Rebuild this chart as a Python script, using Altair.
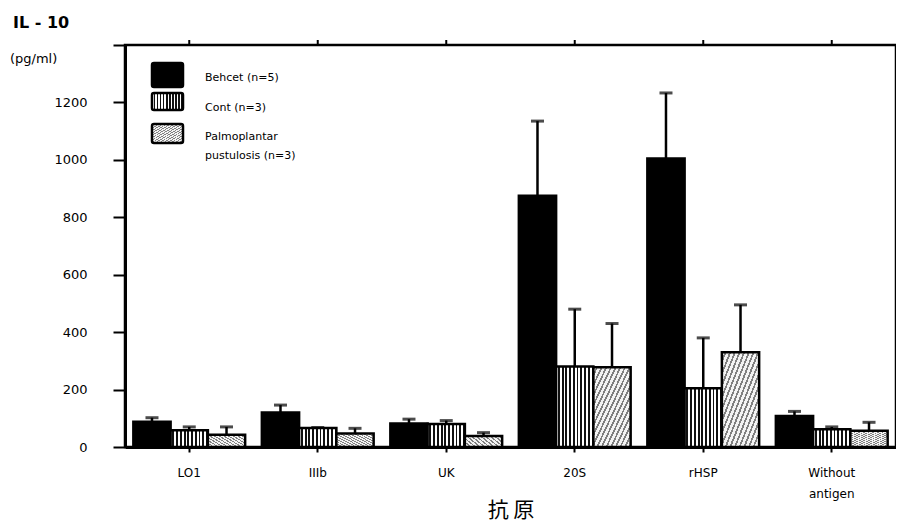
import altair as alt
import pandas as pd

antigens = ["LO1", "IIIb", "UK", "20S", "rHSP", "Without antigen"]
series = ["Behcet (n=5)", "Cont (n=3)", "Palmoplantar pustulosis (n=3)"]
behcet = [88, 120, 82, 875, 1005, 108]
behcet_err = [102, 146, 97, 1135, 1233, 124]
cont = [58, 66, 80, 280, 205, 62]
cont_err = [70, 68, 92, 480, 380, 70]
palmo = [43, 47, 38, 278, 330, 57]
palmo_err = [70, 65, 50, 430, 495, 86]

rows = []
for vals, errs, s in [(behcet, behcet_err, series[0]), (cont, cont_err, series[1]), (palmo, palmo_err, series[2])]:
    for a, v, e in zip(antigens, vals, errs):
        rows.append({"antigen": a, "series": s, "value": v, "err": e})
df = pd.DataFrame(rows)


def stripes(n, dark_frac, light, dark, diag=False):
    stops = []
    for i in range(n):
        a = i / n
        b = (i + 1 - dark_frac) / n
        c = (i + 1) / n
        stops += [alt.GradientStop(color=light, offset=a), alt.GradientStop(color=light, offset=b),
                  alt.GradientStop(color=dark, offset=b), alt.GradientStop(color=dark, offset=c)]
    if diag:
        return alt.Gradient(gradient="linear", stops=stops, x1=0, y1=0, x2=1, y2=1)
    return alt.Gradient(gradient="linear", stops=stops, x1=0, y1=0, x2=1, y2=0)


fills = {
    series[0]: "black",
    series[1]: stripes(10, 0.5, "white", "#111111"),
    series[2]: stripes(16, 0.4, "#f4f4f4", "#808080", diag=True),
}

font = "DejaVu Sans"
xscale = alt.Scale(domain=antigens, paddingInner=0.13, paddingOuter=0.065)
yscale = alt.Scale(domain=[0, 1400])
xoff_scale = alt.Scale(domain=series, paddingInner=0, paddingOuter=0)

base = alt.Chart(df)

x_enc = alt.X("antigen:N", scale=xscale, sort=antigens,
              axis=alt.Axis(title="抗 原", titleFont="Noto Sans CJK JP", titleFontSize=21,
                            titleFontWeight="normal", titlePadding=0, labelAngle=0,
                            labelFont=font, labelFontSize=12, labelPadding=15,
                            labelExpr="datum.label == 'Without antigen' ? ['Without', 'antigen'] : datum.label",
                            labelLineHeight=21, tickSize=5, tickWidth=2, tickColor="black",
                            domainWidth=3, domainColor="black", labelColor="black", titleColor="black"))
y_enc = alt.Y("value:Q", scale=yscale,
              axis=alt.Axis(title=None, values=list(range(0, 1401, 100)),
                            labelExpr="datum.value % 200 == 0 && datum.value < 1400 ? datum.label : ''",
                            format="d", labelFont=font, labelFontSize=13, labelPadding=26,
                            tickSize={"condition": {"test": "datum.value % 200 == 0", "value": 12}, "value": 5},
                            tickWidth=2, tickColor="black", domainWidth=3, domainColor="black",
                            labelColor="black", grid=False))

layers = []
for i, s in enumerate(series):
    sub = base.transform_filter(alt.datum.series == s)
    bar = sub.mark_bar(fill=fills[s], stroke="black", strokeWidth=2.5).encode(
        x=x_enc, y=y_enc,
        xOffset=alt.XOffset("series:N", scale=xoff_scale, sort=series),
    )
    layers.append(bar)

rule = base.mark_rule(color="black", strokeWidth=2.5).encode(
    x=alt.X("antigen:N", scale=xscale, sort=antigens),
    xOffset=alt.XOffset("series:N", scale=xoff_scale, sort=series),
    y="value:Q", y2="err:Q")
cap = base.mark_tick(color="black", thickness=3, size=13).encode(
    x=alt.X("antigen:N", scale=xscale, sort=antigens),
    xOffset=alt.XOffset("series:N", scale=xoff_scale, sort=series),
    y=alt.Y("err:Q"))
toptick = alt.Chart(pd.DataFrame({"antigen": antigens})).mark_rule(color="black", strokeWidth=2).encode(
    x=alt.X("antigen:N", scale=xscale, sort=antigens), y=alt.value(0), y2=alt.value(-5))

# legend
leg = pd.DataFrame({"series": series})
legend_layers = []
for i, s in enumerate(series):
    top = [18, 48, 79][i]
    h = [24, 17, 19][i]
    sw = alt.Chart(leg).transform_filter(alt.datum.series == s).mark_rect(
        fill=fills[s], stroke="black", strokeWidth=2.5, cornerRadius=2).encode(
        x=alt.value(27), x2=alt.value(58), y=alt.value(top), y2=alt.value(top + h))
    legend_layers.append(sw)
leg_text = alt.Chart(pd.DataFrame({
    "label": ["Behcet (n=5)", "Cont (n=3)", "Palmoplantar", "pustulosis (n=3)"],
    "row": [0, 1, 2, 3]})).transform_calculate(
    py="datum.row == 0 ? 36 : datum.row == 1 ? 66 : datum.row == 2 ? 95 : 114"
).mark_text(align="left", baseline="alphabetic", font=font, fontSize=11, color="black").encode(
    x=alt.value(80), y=alt.Y("py:Q", scale=None), text="label:N")

ytitle1 = alt.Chart(pd.DataFrame({"t": ["IL - 10"]})).mark_text(
    align="left", baseline="alphabetic", font=font, fontSize=16, fontWeight="bold", color="black").encode(
    x=alt.value(-112), y=alt.value(-17), text="t:N")
ytitle2 = alt.Chart(pd.DataFrame({"t": ["(pg/ml)"]})).mark_text(
    align="left", baseline="alphabetic", font=font, fontSize=13, color="black").encode(
    x=alt.value(-115), y=alt.value(18), text="t:N")

chart = alt.layer(*layers, rule, cap, toptick, *legend_layers, leg_text, ytitle1, ytitle2).properties(
    width=771, height=402,
    padding={"left": 117, "top": 37, "right": 0, "bottom": 76},
    autosize=alt.AutoSizeParams(type="none"),
).configure_view(stroke="black", strokeWidth=2.5).configure_axis(labelColor="black")

chart.save("out.html", embed_options={"renderer": "svg", "actions": False})
